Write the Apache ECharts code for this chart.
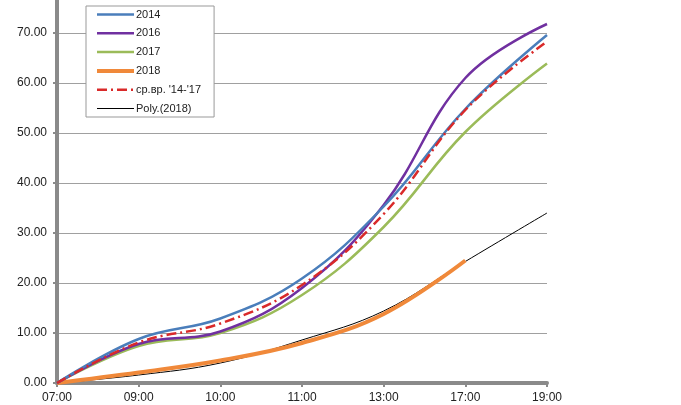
<!DOCTYPE html>
<html>
<head>
<meta charset="utf-8">
<script src="https://cdn.jsdelivr.net/npm/echarts@6/dist/echarts.min.js"></script>
<style>
html,body{margin:0;padding:0;background:#fff;}
#c{width:681px;height:405px;}
</style>
</head>
<body>
<div id="c"></div>
<script>
var categories = ['07:00','09:00','10:00','11:00','13:00','17:00','19:00'];
var yTicks = [0,10,20,30,40,50,60,70];
var s2014 = [0, 8.8, 12.9, 20.9, 35.3, 54.8, 69.6];
var s2016 = [0, 7.8, 10.3, 19.0, 35.6, 61.0, 71.8];
var s2017 = [0, 7.4, 10.0, 17.6, 31.2, 50.2, 63.9];
var s2018 = [0, 2.1, 4.5, 8.0, 13.8, 24.5, null];
var sAvg  = [0, 8.1, 11.9, 19.6, 33.8, 54.6, 68.3];
var sPoly = [0, 1.6, 4.0, 8.6, 14.4, 24.3, 34.0];

var chart = echarts.init(document.getElementById('c'), null, {renderer:'canvas'});
function line(name, data, color, width, type, z){
  return {name:name, type:'line', data:data, smooth:0.4, symbol:'none', z:z,
    lineStyle:{color:color, width:width, type:type||'solid'}, itemStyle:{color:color}};
}
chart.setOption({
  animation:false,
  backgroundColor:'#fff',
  textStyle:{fontFamily:'Liberation Sans'},
  grid:{left:57, right:134, top:0, bottom:22, containLabel:false},
  legend:{
    orient:'vertical', left:86, top:6,
    itemWidth:37, itemHeight:12, itemGap:7.8,
    padding:[3,13,3,9],
    backgroundColor:'#fff', borderColor:'#999', borderWidth:1, borderRadius:0,
    itemStyle:{opacity:0},
    lineStyle:{width:'inherit'},
    textStyle:{fontSize:11, color:'#222', padding:[0,0,0,-3]},
    data:['2014','2016','2017','2018',"ср.вр. '14-'17",'Poly.(2018)']
  },
  xAxis:{
    type:'category', data:categories, boundaryGap:false,
    axisLine:{lineStyle:{color:'#8a8a8a', width:4}},
    axisTick:{show:true, alignWithLabel:true, length:4, lineStyle:{color:'#8a8a8a', width:2}},
    axisLabel:{fontSize:12, color:'#222', margin:9},
    splitLine:{show:false}
  },
  yAxis:{
    type:'value', min:0, max:76.6, interval:10,
    axisLine:{show:true, lineStyle:{color:'#8a8a8a', width:4}},
    axisTick:{show:true, length:4, lineStyle:{color:'#8a8a8a', width:2}},
    axisLabel:{fontSize:12, color:'#222', margin:10, showMaxLabel:false,
      formatter:function(v){ return yTicks.indexOf(v) >= 0 ? v.toFixed(2) : ''; }},
    splitLine:{show:true, showMaxLine:false, lineStyle:{color:'#a0a0a0', width:1}}
  },
  series:[
    line('Poly.(2018)', sPoly, '#000000', 1, 'solid', 1),
    line('2018', s2018, '#f0893a', 4, 'solid', 2),
    line('2017', s2017, '#9bbb59', 2.5, 'solid', 3),
    line('2016', s2016, '#7030a0', 2.5, 'solid', 4),
    line('2014', s2014, '#4a7ebb', 2.5, 'solid', 5),
    line("ср.вр. '14-'17", sAvg, '#d92a2a', 2.5, [10,4,2,4], 6)
  ]
});
</script>
</body>
</html>
